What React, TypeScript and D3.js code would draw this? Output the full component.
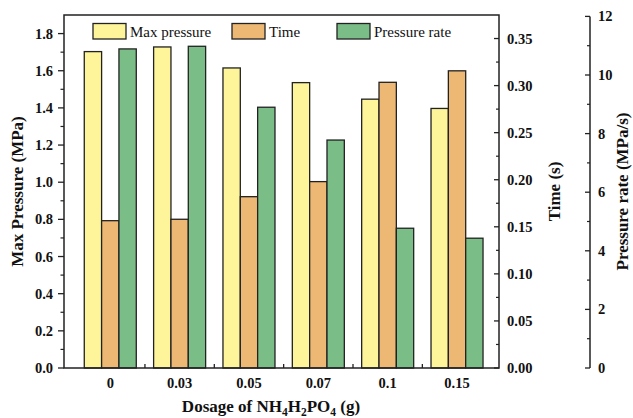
import React from "react";
import * as d3 from "d3";

const categories = ["0", "0.03", "0.05", "0.07", "0.1", "0.15"];
const maxPressure = [1.703, 1.728, 1.615, 1.536, 1.447, 1.397];
const timeS = [0.1565, 0.158, 0.182, 0.198, 0.3035, 0.3157];
const pressureRate = [10.89, 10.98, 8.9, 7.78, 4.77, 4.43];
const seriesNames = ["Max pressure", "Time", "Pressure rate"];
const leftTicks = [0, 0.2, 0.4, 0.6, 0.8, 1.0, 1.2, 1.4, 1.6, 1.8];
const timeTicks = [0, 0.05, 0.1, 0.15, 0.2, 0.25, 0.3, 0.35];
const rateTicks = [0, 2, 4, 6, 8, 10, 12];

const W = 633, H = 418;
const L = 64, R = 499, T = 15, B = 368;
const colors = ["#FEF59A", "#EDB873", "#7ABD87"];
const font = "Liberation Serif, Times New Roman, serif";

export default function App() {
  const x = d3.scaleBand<string>().domain(categories).range([75.6, 491.7]);
  const step = x.step();
  const inner = d3.scaleBand<string>().domain(seriesNames).range([0, step * 0.75]);
  const yL = d3.scaleLinear().domain([0, 1.9]).range([B, T]);
  const yT = d3.scaleLinear().domain([0, 0.375]).range([B, T]);
  const yR = d3.scaleLinear().domain([0, 12]).range([B, 16.4]);
  const scales = [yL, yT, yR];
  const data = [maxPressure, timeS, pressureRate];

  const leftMinor = d3.range(0.1, 1.9, 0.2);
  const timeMinor = d3.range(0.025, 0.375, 0.05);
  const rateMinor = d3.range(1, 12, 2);
  const RX = 590;
  const tickFs = 14.5;

  return (
    <svg width={W} height={H} style={{ position: "absolute", left: 0, top: 0, background: "#fff" }} fontFamily={font}>
      {categories.map((c, i) => {
        const cx = (x(c) as number) + step / 2 - inner.range()[1] / 2;
        return seriesNames.map((s, j) => {
          const y = scales[j](data[j][i]);
          return (
            <rect key={c + s} x={cx + (inner(s) as number)} y={y} width={inner.bandwidth()} height={B - y}
              fill={colors[j]} stroke="#222" strokeWidth={1.3} />
          );
        });
      })}
      <rect x={L} y={T} width={R - L} height={B - T} fill="none" stroke="#222" strokeWidth={1.5} />
      {categories.slice(1).map((c) => (
        <line key={"bm" + c} x1={x(c) as number} x2={x(c) as number} y1={B} y2={B - 4} stroke="#222" strokeWidth={1.3} />
      ))}
      {leftTicks.map((t) => (
        <g key={"l" + t}>
          <line x1={L - 6} x2={L} y1={yL(t)} y2={yL(t)} stroke="#222" strokeWidth={1.3} />
          <text x={L - 11} y={yL(t)} dy="0.35em" textAnchor="end" fontSize={tickFs} fontWeight="bold" fill="#111">{t.toFixed(1)}</text>
        </g>
      ))}
      {leftMinor.map((t) => (
        <line key={"lm" + t} x1={L - 3.5} x2={L} y1={yL(t)} y2={yL(t)} stroke="#222" strokeWidth={1.2} />
      ))}
      {timeTicks.map((t) => (
        <g key={"t" + t}>
          <line x1={R - 5} x2={R} y1={yT(t)} y2={yT(t)} stroke="#222" strokeWidth={1.3} />
          <text x={R + 8} y={yT(t)} dy="0.35em" textAnchor="start" fontSize={tickFs} fontWeight="bold" fill="#111">{t.toFixed(2)}</text>
        </g>
      ))}
      {timeMinor.map((t) => (
        <line key={"tm" + t} x1={R - 3} x2={R} y1={yT(t)} y2={yT(t)} stroke="#222" strokeWidth={1.2} />
      ))}
      <line x1={RX} x2={RX} y1={yR(12)} y2={B} stroke="#222" strokeWidth={1.5} />
      {rateTicks.map((t) => (
        <g key={"r" + t}>
          <line x1={RX - 5} x2={RX} y1={yR(t)} y2={yR(t)} stroke="#222" strokeWidth={1.3} />
          <text x={RX + 8} y={yR(t)} dy="0.35em" textAnchor="start" fontSize={tickFs} fontWeight="bold" fill="#111">{t}</text>
        </g>
      ))}
      {rateMinor.map((t) => (
        <line key={"rm" + t} x1={RX - 3} x2={RX} y1={yR(t)} y2={yR(t)} stroke="#222" strokeWidth={1.2} />
      ))}
      {categories.map((c) => (
        <text key={"xl" + c} x={(x(c) as number) + step / 2} y={388} textAnchor="middle" fontSize={tickFs} fontWeight="bold" fill="#111">{c}</text>
      ))}
      <text x={271} y={412} textAnchor="middle" fontSize={17} fontWeight="bold" fill="#111">
        Dosage of NH<tspan fontSize={11.5} dy={4}>4</tspan><tspan dy={-4}>H</tspan><tspan fontSize={11.5} dy={4}>2</tspan><tspan dy={-4}>PO</tspan><tspan fontSize={11.5} dy={4}>4</tspan><tspan dy={-4}> (g)</tspan>
      </text>
      <text transform={`translate(23,${(T + B) / 2}) rotate(-90)`} textAnchor="middle" fontSize={17} fontWeight="bold" fill="#111">Max Pressure (MPa)</text>
      <text transform={`translate(560,${(T + B) / 2}) rotate(-90)`} textAnchor="middle" fontSize={17} fontWeight="bold" fill="#111">Time (s)</text>
      <text transform={`translate(628,${(T + B) / 2}) rotate(-90)`} textAnchor="middle" fontSize={17} fontWeight="bold" fill="#111">Pressure rate (MPa/s)</text>
      {seriesNames.map((s, j) => {
        const lx = [93, 232, 337][j];
        return (
          <g key={"lg" + s}>
            <rect x={lx} y={23.5} width={33} height={15.5} fill={colors[j]} stroke="#222" strokeWidth={1.3} />
            <text x={lx + 37} y={36.5} fontSize={15} fill="#111">{s}</text>
          </g>
        );
      })}
    </svg>
  );
}
